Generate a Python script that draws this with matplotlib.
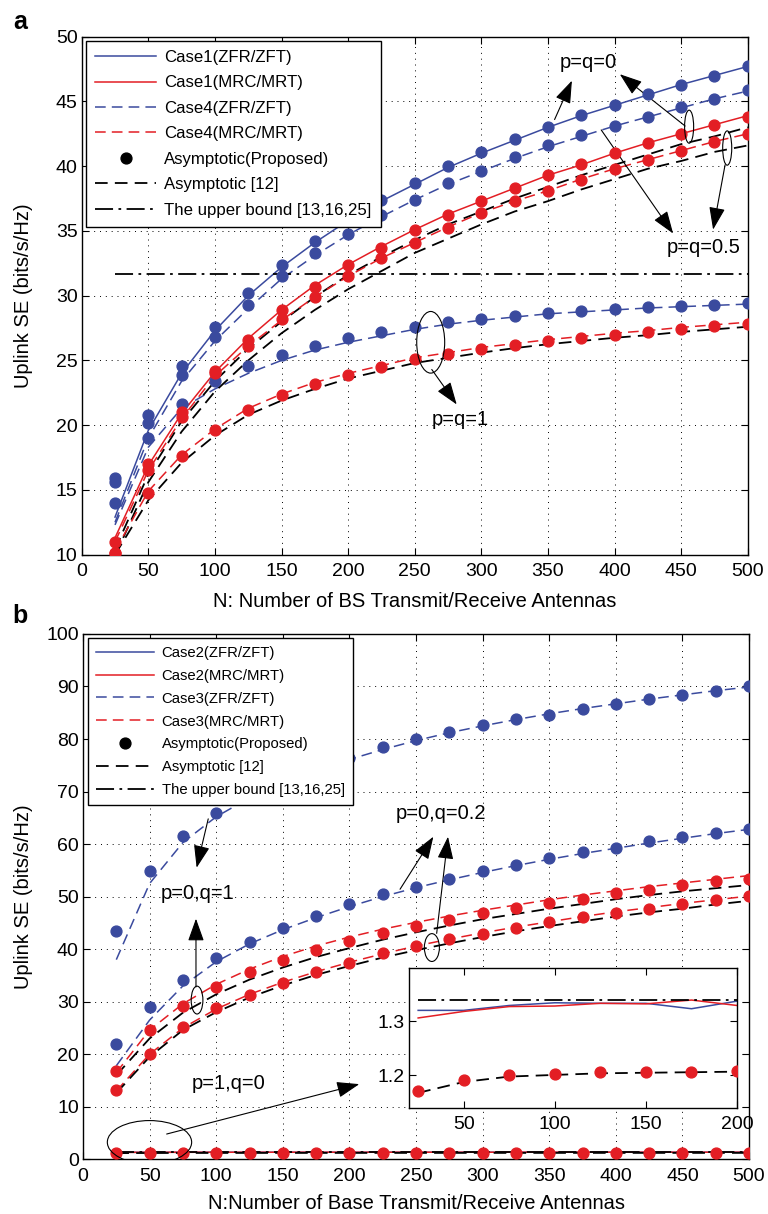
import numpy as np
import matplotlib
matplotlib.use('Agg')
import matplotlib.pyplot as plt
from matplotlib.lines import Line2D
from matplotlib.patches import Ellipse

plt.rcParams['font.family'] = ['Liberation Sans', 'DejaVu Sans']

# ---------------- data ----------------
N = [25, 50, 75, 100, 125, 150, 175, 200, 225, 250,
     275, 300, 325, 350, 375, 400, 425, 450, 475, 500]

# panel (a)
a_c1_zf_line = [12.9, 19.6, 24.0, 27.3, 30.0, 32.2, 34.1, 35.8, 37.3, 38.6,
                39.9, 41.0, 42.0, 43.0, 43.9, 44.7, 45.5, 46.3, 47.0, 47.7]
a_c1_zf_dots = [15.95, 20.8, 24.6, 27.6, 30.2, 32.4, 34.25, 35.9, 37.4, 38.7,
                40.0, 41.1, 42.1, 43.05, 43.95, 44.75, 45.6, 46.3, 47.0, 47.75]
a_c4_zf_line = [12.5, 19.0, 23.4, 26.5, 29.0, 31.3, 33.1, 34.7, 36.1, 37.4,
                38.6, 39.6, 40.6, 41.5, 42.3, 43.1, 43.8, 44.5, 45.2, 45.8]
a_c4_zf_dots = [15.6, 20.15, 23.9, 26.8, 29.3, 31.5, 33.27, 34.8, 36.2, 37.4,
                38.7, 39.6, 40.7, 41.6, 42.4, 43.1, 43.8, 44.55, 45.2, 45.85]
a_c4_zf1_line = [12.3, 18.3, 21.3, 22.8, 24.0, 25.0, 25.8, 26.4, 26.9, 27.4,
                 27.8, 28.1, 28.35, 28.6, 28.75, 28.9, 29.05, 29.15, 29.25, 29.35]
a_c4_zf1_dots = [14.0, 19.0, 21.6, 23.4, 24.6, 25.45, 26.1, 26.75, 27.2, 27.6,
                 27.95, 28.2, 28.45, 28.65, 28.8, 28.95, 29.1, 29.2, 29.3, 29.45]
a_c1_mr_line = [11.3, 16.9, 20.9, 24.1, 26.7, 28.9, 30.8, 32.4, 33.8, 35.1,
                36.3, 37.3, 38.3, 39.3, 40.1, 41.0, 41.8, 42.5, 43.2, 43.9]
a_c1_mr_dots = [10.96, 16.98, 21.0, 24.2, 26.6, 28.9, 30.7, 32.4, 33.7, 35.07,
                36.2, 37.3, 38.3, 39.3, 40.2, 41.0, 41.8, 42.5, 43.2, 43.8]
a_c1_asym12 = [10.4, 16.2, 20.3, 23.4, 25.9, 28.0, 29.9, 31.6, 33.0, 34.3,
               35.5, 36.5, 37.5, 38.4, 39.3, 40.1, 40.9, 41.7, 42.3, 43.0]
a_c4_mr_line = [11.0, 16.5, 20.5, 23.8, 26.1, 28.1, 29.9, 31.5, 32.9, 34.1,
                35.3, 36.4, 37.3, 38.1, 39.0, 39.8, 40.5, 41.2, 41.9, 42.5]
a_c4_mr_dots = [10.15, 16.55, 20.6, 24.0, 26.1, 28.2, 29.9, 31.5, 32.9, 34.1,
                35.25, 36.4, 37.3, 38.1, 38.9, 39.8, 40.5, 41.2, 41.9, 42.5]
a_c4_asym12 = [9.9, 15.6, 19.5, 22.6, 25.0, 27.1, 28.9, 30.5, 31.9, 33.3,
               34.4, 35.5, 36.5, 37.3, 38.2, 39.0, 39.8, 40.4, 41.1, 41.6]
a_c4_mr1_line = [10.3, 14.9, 17.7, 19.7, 21.3, 22.4, 23.3, 24.0, 24.6, 25.2,
                 25.6, 26.0, 26.3, 26.6, 26.85, 27.1, 27.3, 27.55, 27.75, 27.95]
a_c4_mr1_dots = [10.1, 14.74, 17.6, 19.6, 21.2, 22.3, 23.2, 23.9, 24.5, 25.1,
                 25.5, 25.9, 26.2, 26.5, 26.75, 27.0, 27.2, 27.45, 27.65, 27.85]
a_c4_mr1_asym12 = [10.0, 14.2, 17.1, 19.2, 20.8, 21.9, 22.8, 23.6, 24.2, 24.8,
                   25.2, 25.6, 25.95, 26.25, 26.5, 26.75, 26.95, 27.2, 27.4, 27.6]
a_upper_N = [25, 500]
a_upper = [31.7, 31.7]

# panel (b)
b_c3_zf1_line = [38.0, 52.5, 60.3, 65.2, 68.8, 71.6, 74.0, 76.1, 78.0, 79.7,
                 81.2, 82.5, 83.7, 84.8, 85.8, 86.7, 87.6, 88.4, 89.2, 89.9]
b_c3_zf1_dots = [43.5, 54.8, 61.6, 66.0, 69.2, 71.9, 74.2, 76.3, 78.4, 80.0,
                 81.4, 82.6, 83.8, 84.6, 85.8, 86.7, 87.6, 88.4, 89.1, 90.0]
b_c3_zf2_line = [17.8, 26.5, 33.0, 37.6, 41.0, 43.7, 46.0, 48.1, 50.0, 51.7,
                 53.2, 54.6, 55.9, 57.1, 58.2, 59.2, 60.2, 61.1, 62.0, 62.8]
b_c3_zf2_dots = [21.9, 29.0, 34.2, 38.3, 41.4, 44.0, 46.3, 48.5, 50.5, 51.9,
                 53.4, 54.9, 56.1, 57.3, 58.5, 59.2, 60.5, 61.3, 62.2, 62.8]
b_c3_mr1_line = [16.5, 24.6, 29.6, 33.3, 36.2, 38.6, 40.6, 42.3, 43.8, 45.1,
                 46.3, 47.4, 48.4, 49.4, 50.3, 51.1, 51.9, 52.6, 53.3, 54.0]
b_c3_mr1_dots = [16.8, 24.6, 29.2, 32.8, 35.6, 38.0, 39.8, 41.5, 43.0, 44.4,
                 45.5, 46.8, 47.8, 48.8, 49.6, 50.6, 51.3, 52.3, 53.0, 53.4]
b_c3_mr1_asym12 = [16.0, 23.0, 27.9, 31.4, 34.2, 36.5, 38.5, 40.2, 41.8, 43.2,
                   44.5, 45.7, 46.7, 47.7, 48.6, 49.5, 50.3, 51.0, 51.6, 52.2]
b_c3_mr2_line = [13.0, 20.0, 25.0, 28.6, 31.4, 33.7, 35.7, 37.5, 39.1, 40.6,
                 41.9, 43.1, 44.2, 45.2, 46.2, 47.1, 47.9, 48.7, 49.4, 50.1]
b_c3_mr2_dots = [13.2, 20.1, 25.1, 28.7, 31.2, 33.6, 35.6, 37.3, 39.2, 40.6,
                 41.9, 42.8, 44.1, 45.1, 46.1, 46.9, 47.6, 48.5, 49.3, 50.1]
b_c3_mr2_asym12 = [12.6, 19.5, 24.6, 28.0, 30.8, 33.1, 35.1, 36.8, 38.4, 39.8,
                   41.1, 42.3, 43.4, 44.4, 45.3, 46.2, 47.0, 47.7, 48.5, 49.2]
b_c2_zf = [1.320, 1.320, 1.329, 1.334, 1.333, 1.333, 1.323, 1.337, 1.335, 1.336,
           1.334, 1.336, 1.335, 1.337, 1.336, 1.335, 1.337, 1.336, 1.336, 1.337]
b_c2_mr = [1.306, 1.318, 1.327, 1.328, 1.333, 1.332, 1.339, 1.329, 1.334, 1.335,
           1.336, 1.334, 1.336, 1.335, 1.337, 1.336, 1.335, 1.336, 1.337, 1.336]
b_c2_dots = [1.172, 1.192, 1.200, 1.203, 1.206, 1.206, 1.206, 1.208, 1.208, 1.209,
             1.209, 1.209, 1.209, 1.210, 1.210, 1.210, 1.210, 1.210, 1.210, 1.210]
b_c2_asym12 = [1.168, 1.188, 1.198, 1.201, 1.204, 1.205, 1.206, 1.207, 1.207, 1.208,
               1.208, 1.208, 1.209, 1.209, 1.209, 1.209, 1.209, 1.210, 1.210, 1.210]
b_upper_N = [25, 500]
b_upper = [1.340, 1.340]

xticks = [0, 50, 100, 150, 200, 250, 300, 350, 400, 450, 500]
a_yticks = [10, 15, 20, 25, 30, 35, 40, 45, 50]
b_yticks = [0, 10, 20, 30, 40, 50, 60, 70, 80, 90, 100]
ins_xticks = [50, 100, 150, 200]
ins_yticks = [1.2, 1.3]

leg_a = ['Case1(ZFR/ZFT)', 'Case1(MRC/MRT)', 'Case4(ZFR/ZFT)', 'Case4(MRC/MRT)',
         'Asymptotic(Proposed)', 'Asymptotic [12]', 'The upper bound [13,16,25]']
leg_b = ['Case2(ZFR/ZFT)', 'Case2(MRC/MRT)', 'Case3(ZFR/ZFT)', 'Case3(MRC/MRT)',
         'Asymptotic(Proposed)', 'Asymptotic [12]', 'The upper bound [13,16,25]']

# ---------------- styles ----------------
BLUE = '#3a4a9e'
RED = '#e31e24'
DASH = (0, (7, 4))
DASHDOT = (0, (10, 3, 1.5, 3))
LW = 1.1
MS = 7.8
TICK_FS = 14
LABEL_FS = 14.5
ANN_FS = 14.5

fig = plt.figure(figsize=(7.68, 12.14), dpi=100)
ax1 = fig.add_axes([0.1064, 0.5431, 0.8672, 0.4267])
ax2 = fig.add_axes([0.1081, 0.0451, 0.8672, 0.4327])
axi = fig.add_axes([0.5326, 0.0873, 0.4271, 0.1153])


def style_axes(ax, xt, yt, grid=True):
    ax.set_xticks(xt)
    ax.set_yticks(yt)
    ax.tick_params(direction='in', top=True, right=True, length=5, width=0.8,
                   labelsize=TICK_FS)
    ax.tick_params(axis='x', pad=6)
    ax.tick_params(axis='y', pad=3)
    for s in ax.spines.values():
        s.set_linewidth(1.0)
    if grid:
        ax.grid(True, linestyle=(0, (1, 5)), color='k', lw=0.7)
        ax.set_axisbelow(True)


def curve(ax, x, line, dots, color, ls, asym=None):
    ax.plot(x, line, color=color, ls=ls, lw=LW, zorder=3)
    if asym is not None:
        ax.plot(x, asym, color='k', ls=DASH, lw=1.3, zorder=3)
    ax.plot(x, dots, 'o', color=color, ms=MS, mec=color, zorder=4)


# ---------------- panel (a) ----------------
curve(ax1, N, a_c1_zf_line, a_c1_zf_dots, BLUE, '-')
curve(ax1, N, a_c4_zf_line, a_c4_zf_dots, BLUE, DASH)
curve(ax1, N, a_c4_zf1_line, a_c4_zf1_dots, BLUE, DASH)
curve(ax1, N, a_c1_mr_line, a_c1_mr_dots, RED, '-', a_c1_asym12)
curve(ax1, N, a_c4_mr_line, a_c4_mr_dots, RED, DASH, a_c4_asym12)
curve(ax1, N, a_c4_mr1_line, a_c4_mr1_dots, RED, DASH, a_c4_mr1_asym12)
ax1.plot(a_upper_N, a_upper, color='k', ls=DASHDOT, lw=1.3, zorder=3)

ax1.set_xlim(0, 500)
ax1.set_ylim(10, 50)
style_axes(ax1, xticks, a_yticks)
ax1.set_xlabel('N: Number of BS Transmit/Receive Antennas', fontsize=LABEL_FS)
ax1.set_ylabel('Uplink SE (bits/s/Hz)', fontsize=LABEL_FS)
ax1.xaxis.set_label_coords(0.5, -0.072)
ax1.yaxis.set_label_coords(-0.073, 0.5)

AP = dict(arrowstyle='-|>,head_length=0.7,head_width=0.25', color='k', lw=0.8,
          mutation_scale=20, shrinkA=0, shrinkB=0)

ax1.text(380, 48.0, 'p=q=0', fontsize=ANN_FS, ha='center', va='center')
ax1.annotate('', xy=(368, 46.6), xytext=(355, 43.6), arrowprops=AP)
ax1.annotate('', xy=(404, 47.1), xytext=(453, 43.1), arrowprops=AP)
ax1.add_patch(Ellipse((456, 43.05), 6.8, 2.55, fill=False, lw=0.8, ec='k', zorder=5))
ax1.add_patch(Ellipse((484.6, 41.4), 6.8, 2.65, fill=False, lw=0.8, ec='k', zorder=5))
ax1.text(466.7, 33.75, 'p=q=0.5', fontsize=ANN_FS, ha='center', va='center')
ax1.annotate('', xy=(444, 34.8), xytext=(390, 42.8), arrowprops=AP)
ax1.annotate('', xy=(474, 35.1), xytext=(483, 40.1), arrowprops=AP)
ax1.add_patch(Ellipse((262, 26.4), 21, 4.76, fill=False, lw=0.8, ec='k', zorder=5))
ax1.annotate('', xy=(281.5, 21.6), xytext=(262.8, 24.3), arrowprops=AP)
ax1.text(284, 20.4, 'p=q=1', fontsize=ANN_FS, ha='center', va='center')


def legend_handles():
    return [Line2D([], [], color=BLUE, lw=LW, ls='-'),
            Line2D([], [], color=RED, lw=LW, ls='-'),
            Line2D([], [], color=BLUE, lw=LW, ls=DASH),
            Line2D([], [], color=RED, lw=LW, ls=DASH),
            Line2D([], [], color='k', ls='none', marker='o', ms=MS),
            Line2D([], [], color='k', lw=1.3, ls=DASH),
            Line2D([], [], color='k', lw=1.3, ls=DASHDOT)]


lg1 = ax1.legend(legend_handles(), leg_a, loc='upper left',
                 bbox_to_anchor=(0.0065, 0.992), borderaxespad=0,
                 fontsize=12.1, handlelength=3.6, handletextpad=0.5,
                 labelspacing=0.62, borderpad=0.55, fancybox=False,
                 framealpha=1, edgecolor='k')
lg1.get_frame().set_linewidth(1.0)
lg1.set_zorder(10)

# ---------------- panel (b) ----------------
curve(ax2, N, b_c3_zf1_line, b_c3_zf1_dots, BLUE, DASH)
curve(ax2, N, b_c3_zf2_line, b_c3_zf2_dots, BLUE, DASH)
curve(ax2, N, b_c3_mr1_line, b_c3_mr1_dots, RED, DASH, b_c3_mr1_asym12)
curve(ax2, N, b_c3_mr2_line, b_c3_mr2_dots, RED, DASH, b_c3_mr2_asym12)
ax2.plot(N, b_c2_zf, color=BLUE, lw=LW, zorder=3)
ax2.plot(N, b_c2_mr, color=RED, lw=LW, zorder=3)
ax2.plot(N, b_c2_asym12, color='k', ls=DASH, lw=1.3, zorder=3)
ax2.plot(b_upper_N, b_upper, color='k', ls=DASHDOT, lw=1.3, zorder=3)
ax2.plot(N, b_c2_dots, 'o', color=RED, ms=MS, zorder=4)

ax2.set_xlim(0, 500)
ax2.set_ylim(0, 100)
style_axes(ax2, xticks, b_yticks)
ax2.set_xlabel('N:Number of Base Transmit/Receive Antennas', fontsize=LABEL_FS)
ax2.set_ylabel('Uplink SE (bits/s/Hz)', fontsize=LABEL_FS)
ax2.xaxis.set_label_coords(0.5, -0.066)
ax2.yaxis.set_label_coords(-0.075, 0.5)

ax2.text(86.3, 50.6, 'p=0,q=1', fontsize=ANN_FS, ha='center', va='center')
ax2.annotate('', xy=(85.3, 55.5), xytext=(94, 64.8), arrowprops=AP)
ax2.annotate('', xy=(84.8, 45.8), xytext=(84.8, 32.8), arrowprops=AP)
ax2.add_patch(Ellipse((85.6, 30.3), 8.8, 5.3, fill=False, lw=0.8, ec='k', zorder=5))
ax2.text(268.5, 65.9, 'p=0,q=0.2', fontsize=ANN_FS, ha='center', va='center')
ax2.annotate('', xy=(263, 61.4), xytext=(238, 51.4), arrowprops=AP)
ax2.annotate('', xy=(274, 61.4), xytext=(265.5, 43.0), arrowprops=AP)
ax2.add_patch(Ellipse((261.9, 40.3), 11.3, 5.3, fill=False, lw=0.8, ec='k', zorder=5))
ax2.text(109.6, 14.5, 'p=1,q=0', fontsize=ANN_FS, ha='center', va='center')
ax2.add_patch(Ellipse((49.9, 3.24), 63.3, 8.25, fill=False, lw=0.8, ec='k', zorder=5))
ax2.annotate('', xy=(207.4, 14.3), xytext=(62.8, 4.8), arrowprops=AP)

lg2 = ax2.legend(legend_handles(), leg_b, loc='upper left',
                 bbox_to_anchor=(0.0075, 0.993), borderaxespad=0,
                 fontsize=10.7, handlelength=3.9, handletextpad=0.5,
                 labelspacing=0.6, borderpad=0.55, fancybox=False,
                 framealpha=1, edgecolor='k')
lg2.get_frame().set_linewidth(1.0)
lg2.set_zorder(10)

# ---------------- inset ----------------
axi.plot(N, b_c2_zf, color=BLUE, lw=LW)
axi.plot(N, b_c2_mr, color=RED, lw=LW)
axi.plot(N, b_c2_asym12, color='k', ls=DASH, lw=1.3)
axi.plot(b_upper_N, b_upper, color='k', ls=DASHDOT, lw=1.3)
axi.plot(N, b_c2_dots, 'o', color=RED, ms=MS, zorder=4)
axi.set_xlim(20, 200)
axi.set_ylim(1.14, 1.398)
style_axes(axi, ins_xticks, ins_yticks, grid=False)
axi.set_zorder(20)

fig.text(0.017, 1 - 22 / 1214, 'a', fontsize=18, fontweight='bold', va='center')
fig.text(0.016, 1 - 616 / 1214, 'b', fontsize=18, fontweight='bold', va='center')

fig.savefig('out.png', dpi=100)
